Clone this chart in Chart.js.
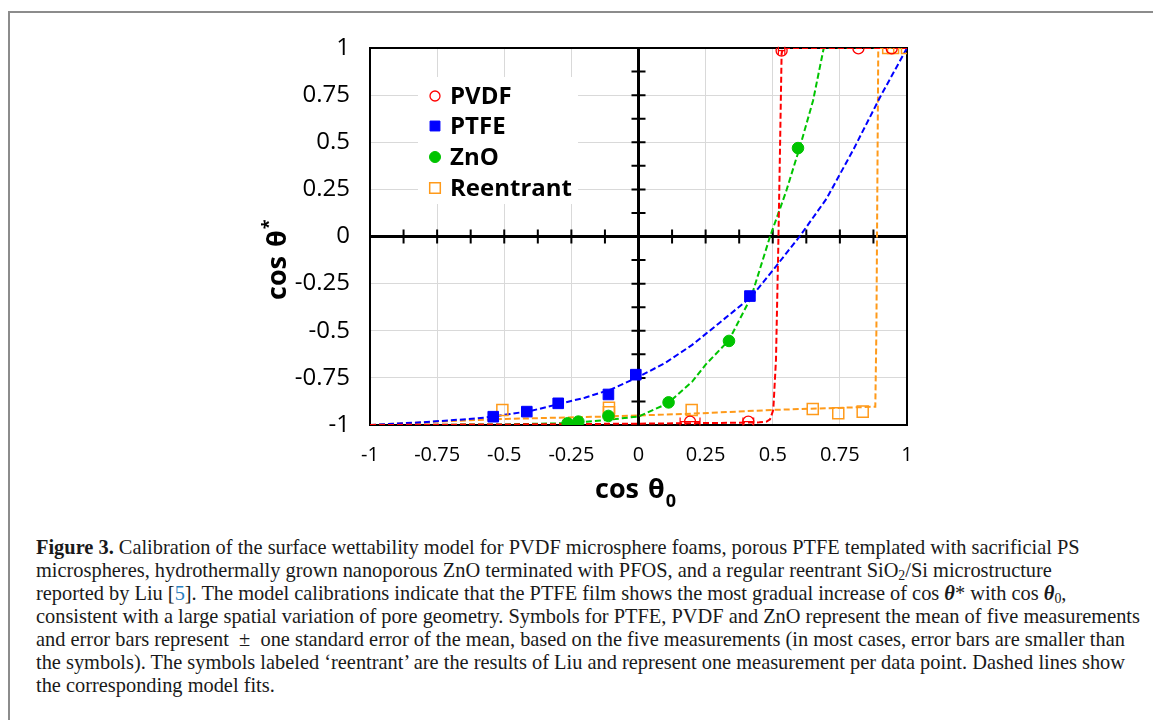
<!DOCTYPE html>
<html>
<head>
<meta charset="utf-8">
<script src="https://cdn.jsdelivr.net/npm/chart.js@4.4.0/dist/chart.umd.min.js"></script>
<style>
  body { margin: 0; background: #fff; width: 1153px; height: 720px; overflow: hidden; position: relative; }
  #frame { position: absolute; left: 8px; top: 11px; width: 1200px; height: 800px; border-left: 2px solid #8c8c8c; border-top: 2px solid #8c8c8c; }
  #wrap { position: absolute; left: 0; top: 0; width: 1153px; height: 510px; }
  #caption { position: absolute; left: 36px; top: 536px; font-family: "Liberation Serif", "DejaVu Serif", serif; font-size: 19px; line-height: 23px; color: #1a1a1a; white-space: nowrap; }
  #caption sub { font-size: 0.68em; line-height: 0; vertical-align: -0.22em; }
  #caption .ref { color: #2a7fc0; }
  #caption .th { font-weight: bold; font-style: italic; }
</style>
</head>
<body>
<div id="frame"></div>
<div id="wrap"><canvas id="wettabilityChart"></canvas></div>
<div id="caption">
  <div><b>Figure 3.</b> Calibration of the surface wettability model for PVDF microsphere foams, porous PTFE templated with sacrificial PS</div>
  <div>microspheres, hydrothermally grown nanoporous ZnO terminated with PFOS, and a regular reentrant SiO<sub>2</sub>/Si microstructure</div>
  <div>reported by Liu [<span class="ref">5</span>]. The model calibrations indicate that the PTFE film shows the most gradual increase of cos <span class="th">θ</span>* with cos <span class="th">θ</span><sub>0</sub>,</div>
  <div id="capLine4">consistent with a large spatial variation of pore geometry. Symbols for PTFE, PVDF and ZnO represent the mean of five measurements</div>
  <div>and error bars represent &nbsp;±&nbsp; one standard error of the mean, based on the five measurements (in most cases, error bars are smaller than</div>
  <div>the symbols). The symbols labeled ‘reentrant’ are the results of Liu and represent one measurement per data point. Dashed lines show</div>
  <div>the corresponding model fits.</div>
</div>
<script>
// measured points
const pvdfX = [0.192, 0.409, 0.533, 0.819, 0.943];
const pvdfY = [-0.982, -0.982, 0.986, 0.998, 0.998];
const pvdfErr = [0.037, 0.02, 0.012, 0, 0];

const ptfeX = [-0.541, -0.416, -0.299, -0.112, -0.010, 0.415];
const ptfeY = [-0.956, -0.929, -0.885, -0.838, -0.733, -0.316];
const ptfeErr = [0, 0, 0, 0, 0, 0.015];

const znoX = [-0.264, -0.224, -0.112, 0.112, 0.337, 0.594];
const znoY = [-0.991, -0.982, -0.952, -0.880, -0.554, 0.469];

const reX = [-0.507, -0.110, -0.110, 0.198, 0.649, 0.744, 0.835, 0.930, 0.948, 1.0];
const reY = [-0.920, -0.908, -0.933, -0.920, -0.915, -0.938, -0.929, 1.0, 1.0, 1.0];

// model fits
const pvdfFitX = [-1, -0.5, 0, 0.3, 0.45, 0.477, 0.49, 0.502, 0.512, 0.52, 0.527, 0.533, 0.538, 1];
const pvdfFitY = [-1, -0.997, -0.993, -0.989, -0.986, -0.982, -0.97, -0.92, -0.655, -0.1, 0.46, 0.97, 1, 1];

const ptfeFitX = [-1, -0.8, -0.6, -0.54, -0.4, -0.3, -0.2, -0.1, 0, 0.1, 0.2, 0.3, 0.42, 0.5, 0.6, 0.7, 0.8, 0.9, 1];
const ptfeFitY = [-1, -0.985, -0.965, -0.955, -0.925, -0.89, -0.855, -0.81, -0.745, -0.67, -0.575, -0.46, -0.32, -0.18, 0, 0.2, 0.46, 0.74, 1];

const znoFitX = [-1, -0.5, -0.26, -0.11, 0, 0.11, 0.2, 0.25, 0.337, 0.42, 0.49, 0.55, 0.6, 0.65, 0.69, 1];
const znoFitY = [-1, -0.997, -0.99, -0.972, -0.955, -0.885, -0.77, -0.68, -0.55, -0.32, 0, 0.24, 0.47, 0.72, 1, 1];

const reFitX = [-1, -0.75, -0.5, -0.12, 0.2, 0.5, 0.882, 0.886, 0.893, 1];
const reFitY = [-1, -0.982, -0.968, -0.955, -0.94, -0.92, -0.903, -0.5, 1, 1];

const xTicks = [-1, -0.75, -0.5, -0.25, 0, 0.25, 0.5, 0.75, 1];
const yTicks = [-1, -0.75, -0.5, -0.25, 0, 0.25, 0.5, 0.75, 1];

const legendNames = ['PVDF', 'PTFE', 'ZnO', 'Reentrant'];

const pts = (xs, ys) => xs.map((x, i) => ({ x: x, y: ys[i] }));

const RED = '#ff0000', BLUE = '#0000ff', GREEN = '#00c400', ORANGE = '#ff9a1a';

function fitLine(xs, ys, color) {
  return {
    data: pts(xs, ys),
    showLine: true,
    borderColor: color,
    borderWidth: 2,
    borderDash: [6, 3],
    pointRadius: 0,
    order: 2
  };
}

const zeroAxes = {
  id: 'zeroAxes',
  beforeDatasetsDraw(chart) {
    const { ctx, chartArea: a, scales: { x, y } } = chart;
    ctx.save();
    ctx.strokeStyle = '#000';
    ctx.lineWidth = 2;
    ctx.strokeRect(a.left, a.top, a.right - a.left, a.bottom - a.top);
    const x0 = x.getPixelForValue(0), y0 = y.getPixelForValue(0);
    ctx.lineWidth = 3;
    ctx.beginPath();
    ctx.moveTo(x0, a.top); ctx.lineTo(x0, a.bottom);
    ctx.moveTo(a.left, y0); ctx.lineTo(a.right, y0);
    ctx.stroke();
    ctx.lineWidth = 2;
    ctx.beginPath();
    for (let v = -0.875; v < 1; v += 0.125) {
      if (Math.abs(v) < 1e-6) continue;
      const px = x.getPixelForValue(v), py = y.getPixelForValue(v);
      ctx.moveTo(px, y0 - 7); ctx.lineTo(px, y0 + 7);
      ctx.moveTo(x0 - 7, py); ctx.lineTo(x0 + 7, py);
    }
    ctx.stroke();
    ctx.restore();
  }
};

const errorBars = {
  id: 'errorBars',
  afterDatasetsDraw(chart) {
    const { ctx, scales: { x, y } } = chart;
    chart.data.datasets.forEach(ds => {
      if (!ds.xErr) return;
      ctx.save();
      ctx.strokeStyle = ds.borderColor;
      ctx.lineWidth = 1.2;
      ds.data.forEach((p, i) => {
        const e = ds.xErr[i];
        if (!e) return;
        const l = x.getPixelForValue(p.x - e), r = x.getPixelForValue(p.x + e), py = y.getPixelForValue(p.y);
        ctx.beginPath();
        ctx.moveTo(l, py); ctx.lineTo(r, py);
        ctx.moveTo(l, py - 4); ctx.lineTo(l, py + 4);
        ctx.moveTo(r, py - 4); ctx.lineTo(r, py + 4);
        ctx.stroke();
      });
      ctx.restore();
    });
  }
};

const insideLegend = {
  id: 'insideLegend',
  afterDraw(chart) {
    const ctx = chart.ctx;
    const rows = [96, 126, 157, 188];
    ctx.save();
    ctx.fillStyle = '#fff';
    ctx.fillRect(418, 77, 160, 127);
    ctx.font = 'bold 24px "Open Sans"';
    ctx.textBaseline = 'middle';
    legendNames.forEach((name, i) => {
      const ds = chart.data.datasets[i];
      ctx.fillStyle = ds.backgroundColor;
      ctx.strokeStyle = ds.borderColor;
      ctx.lineWidth = ds.borderWidth;
      Chart.helpers.drawPoint(ctx, {
        pointStyle: ds.pointStyle, rotation: 0,
        radius: ds.legendRadius, borderWidth: ds.borderWidth
      }, 435, rows[i]);
      ctx.fillStyle = '#000';
      ctx.fillText(name, 450, rows[i] + 1);
    });
    ctx.restore();
  }
};

// draws "cos θ" then the small suffix (sub- or superscript)
function drawCosTheta(ctx, x, y, suffix, suffixDy) {
  const main = 'bold 27px "Open Sans"', small = 'bold 18px "Open Sans"';
  ctx.font = main;
  ctx.fillText('cos', x, y);
  const tx = x + ctx.measureText('cos').width + 9;
  ctx.fillText('θ', tx, y);
  const sx = tx + ctx.measureText('θ').width + 1;
  ctx.font = small;
  ctx.fillText(suffix, sx, y + suffixDy);
}

const axisTitles = {
  id: 'axisTitles',
  afterDraw(chart) {
    const ctx = chart.ctx;
    ctx.save();
    ctx.fillStyle = '#000';
    ctx.textBaseline = 'alphabetic';
    drawCosTheta(ctx, 595, 498, '0', 9);
    ctx.translate(286, 300);
    ctx.rotate(-Math.PI / 2);
    drawCosTheta(ctx, 0, 0, '*', -11);
    ctx.restore();
  }
};

const chart = new Chart(document.getElementById('wettabilityChart'), {
  type: 'scatter',
  data: {
    datasets: [
      { label: 'PVDF', data: pts(pvdfX, pvdfY), xErr: pvdfErr, pointStyle: 'circle', pointRadius: 5.5, legendRadius: 5,
        borderColor: RED, backgroundColor: 'rgba(255,255,255,0)', borderWidth: 1.3, order: 1 },
      { label: 'PTFE', data: pts(ptfeX, ptfeY), xErr: ptfeErr, pointStyle: 'rect', pointRadius: 7.5, legendRadius: 7,
        borderColor: BLUE, backgroundColor: BLUE, borderWidth: 1, order: 1 },
      { label: 'ZnO', data: pts(znoX, znoY), pointStyle: 'circle', pointRadius: 5.8, legendRadius: 5.5,
        borderColor: GREEN, backgroundColor: GREEN, borderWidth: 1, order: 1 },
      { label: 'Reentrant', data: pts(reX, reY), pointStyle: 'rect', pointRadius: 7.8, legendRadius: 7.5,
        borderColor: ORANGE, backgroundColor: 'rgba(255,255,255,0)', borderWidth: 1.5, order: 1 },
      fitLine(pvdfFitX, pvdfFitY, RED),
      fitLine(ptfeFitX, ptfeFitY, BLUE),
      fitLine(znoFitX, znoFitY, GREEN),
      fitLine(reFitX, reFitY, ORANGE)
    ]
  },
  options: {
    responsive: true,
    maintainAspectRatio: false,
    animation: false,
    layout: { padding: { left: 270, right: 246, top: 48, bottom: 0 } },
    plugins: {
      legend: { display: false },
      tooltip: { enabled: false }
    },
    scales: {
      x: {
        min: -1, max: 1,
        afterBuildTicks: s => { s.ticks = xTicks.map(v => ({ value: v })); },
        afterFit: s => { s.height = 85; },
        grid: { color: '#d9d9d9', lineWidth: 1, drawTicks: false },
        border: { display: false },
        ticks: { padding: 18, color: '#000', font: { family: 'Open Sans', size: 20 }, callback: v => String(v), maxRotation: 0 }
      },
      y: {
        min: -1, max: 1,
        afterBuildTicks: s => { s.ticks = yTicks.map(v => ({ value: v })); },
        afterFit: s => { s.width = 100; },
        grid: { color: '#d9d9d9', lineWidth: 1, drawTicks: false },
        border: { display: false },
        ticks: { padding: 20, color: '#000', font: { family: 'Open Sans', size: 24 }, callback: v => String(v) }
      }
    }
  },
  plugins: [zeroAxes, errorBars, insideLegend, axisTitles]
});

// fit the caption width to the reference line length
const cap = document.getElementById('caption');
const l4 = document.getElementById('capLine4');
const w = l4.getBoundingClientRect().width;
cap.style.fontSize = (19 * 1105 / w).toFixed(2) + 'px';
</script>
</body>
</html>
